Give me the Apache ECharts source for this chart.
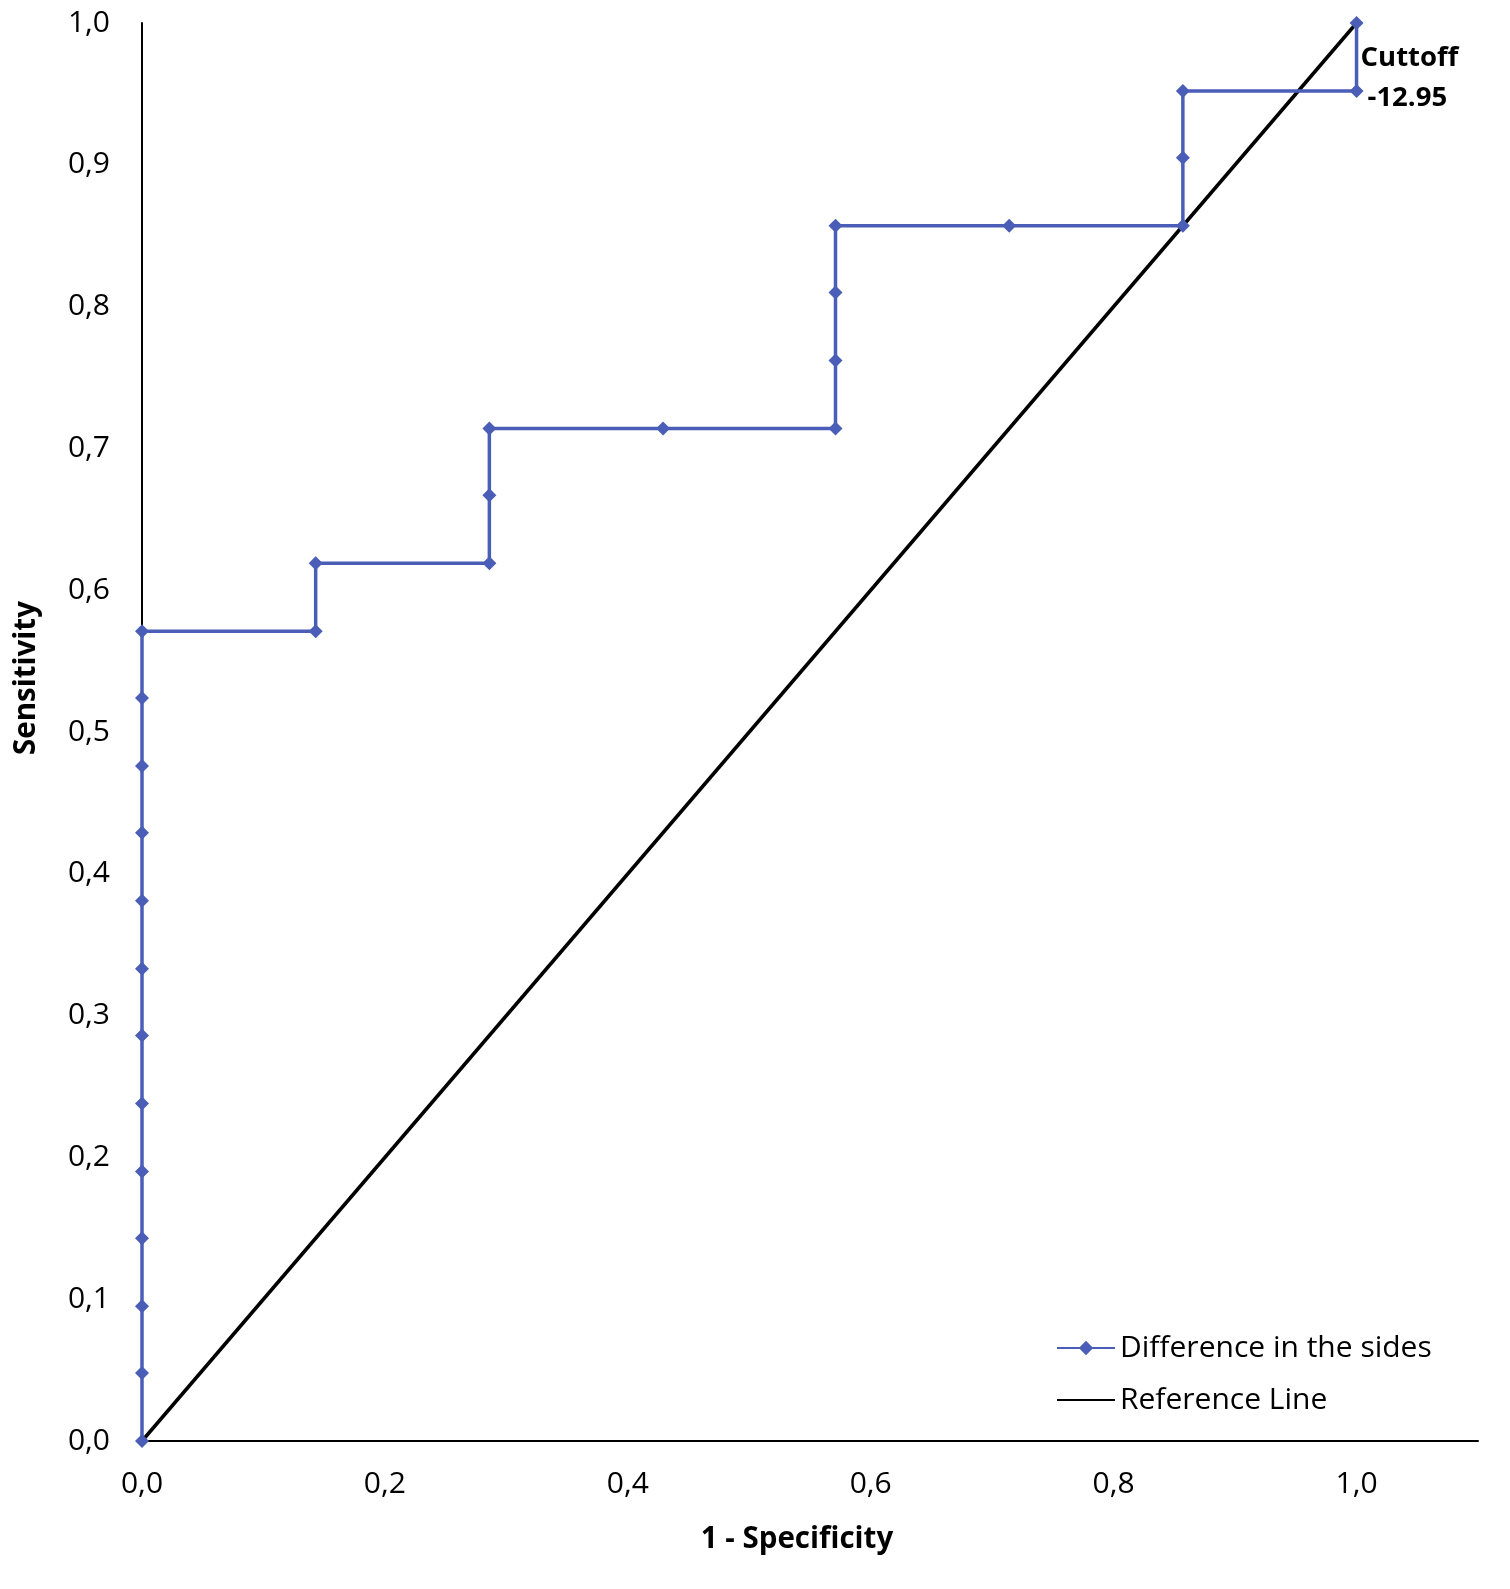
<!DOCTYPE html>
<html>
<head>
<meta charset="utf-8">
<script src="https://cdn.jsdelivr.net/npm/echarts@6/dist/echarts.min.js"></script>
<style>
html,body{margin:0;padding:0;background:#fff;}
#chart{width:1510px;height:1589px;}
</style>
</head>
<body>
<div id="chart"></div>
<script>
// ROC curve points (1 - Specificity, Sensitivity)
const rocX = [0,0,0,0,0,0,0,0,0,0,0,0,0, 0.143,0.143, 0.286,0.286,0.286, 0.429, 0.571,0.571,0.571,0.571, 0.714, 0.857,0.857,0.857, 1.0,1.0];
const rocY = [0,0.048,0.095,0.143,0.190,0.238,0.286,0.333,0.381,0.429,0.476,0.524,0.571, 0.571,0.619, 0.619,0.667,0.714, 0.714, 0.714,0.762,0.810,0.857, 0.857, 0.857,0.905,0.952, 0.952,1.0];
const refX = [0, 1];
const refY = [0, 1];
const seriesNames = ['Difference in the sides', 'Reference Line'];
const cutoffIndex = 27;
const cutoffLines = ['Cuttoff', '-12.95'];
const xTitle = '1 - Specificity';
const yTitle = 'Sensitivity';

const FONT = 'Open Sans';
const blue = '#4A5EB8';
const fmt = v => v > 1.0001 ? '' : v.toFixed(1).replace('.', ',');

const rocData = rocX.map((x, i) => {
  const item = { value: [x, rocY[i]] };
  if (i === cutoffIndex) {
    item.label = {
      show: true, position: 'right', distance: 0, offset: [-3, -13],
      formatter: '{a|' + cutoffLines[0] + '}\n{b|' + cutoffLines[1] + '}',
      rich: {
        a: { color: '#000', fontFamily: FONT, fontWeight: 'bold', fontSize: 27.5, lineHeight: 40, padding: [0, 0, 0, 0] },
        b: { color: '#000', fontFamily: FONT, fontWeight: 'bold', fontSize: 27.5, lineHeight: 40, padding: [0, 0, 0, 7] }
      }
    };
  }
  return item;
});
const refData = refX.map((x, i) => [x, refY[i]]);

const chart = echarts.init(document.getElementById('chart'), null, { renderer: 'canvas' });
chart.setOption({
  backgroundColor: '#fff',
  animation: false,
  textStyle: { fontFamily: FONT },
  grid: { left: 142, right: 32, top: 23, bottom: 148, containLabel: false },
  xAxis: {
    type: 'value', min: 0, max: 1.1, interval: 0.2,
    axisLine: { show: true, lineStyle: { color: '#000', width: 2 } },
    axisTick: { show: false },
    splitLine: { show: false },
    axisLabel: { formatter: fmt, color: '#000', fontSize: 30, fontFamily: FONT, margin: 28, showMaxLabel: false },
    name: xTitle, nameLocation: 'middle', nameGap: 84,
    nameTextStyle: { color: '#000', fontSize: 29.5, fontWeight: 'bold', fontFamily: FONT, padding: [0, 26, 0, 0] }
  },
  yAxis: {
    type: 'value', min: 0, max: 1, interval: 0.1,
    axisLine: { show: true, lineStyle: { color: '#000', width: 2 } },
    axisTick: { show: false },
    splitLine: { show: false },
    axisLabel: { formatter: fmt, color: '#000', fontSize: 30, fontFamily: FONT, margin: 32 },
    name: yTitle, nameLocation: 'middle', nameGap: 100, nameRotate: 90,
    nameTextStyle: { color: '#000', fontSize: 29.5, fontWeight: 'bold', fontFamily: FONT, padding: [0, 0, 0, 108] }
  },
  legend: {
    orient: 'vertical', left: 1051, top: 1326,
    itemWidth: 58, itemHeight: 18, itemGap: 18,
    textStyle: { color: '#000', fontSize: 30, lineHeight: 34, fontFamily: FONT },
    data: [
      { name: seriesNames[0] },
      { name: seriesNames[1], itemStyle: { color: 'rgba(0,0,0,0)', borderWidth: 0 } }
    ]
  },
  series: [
    {
      name: seriesNames[1], type: 'line', data: refData,
      symbol: 'none', lineStyle: { color: '#000', width: 3.5 }, itemStyle: { color: '#000' },
      z: 2
    },
    {
      name: seriesNames[0], type: 'line', data: rocData,
      symbol: 'diamond', symbolSize: 14, showAllSymbol: true,
      lineStyle: { color: blue, width: 3.5 }, itemStyle: { color: blue },
      z: 3
    }
  ]
});
</script>
</body>
</html>
